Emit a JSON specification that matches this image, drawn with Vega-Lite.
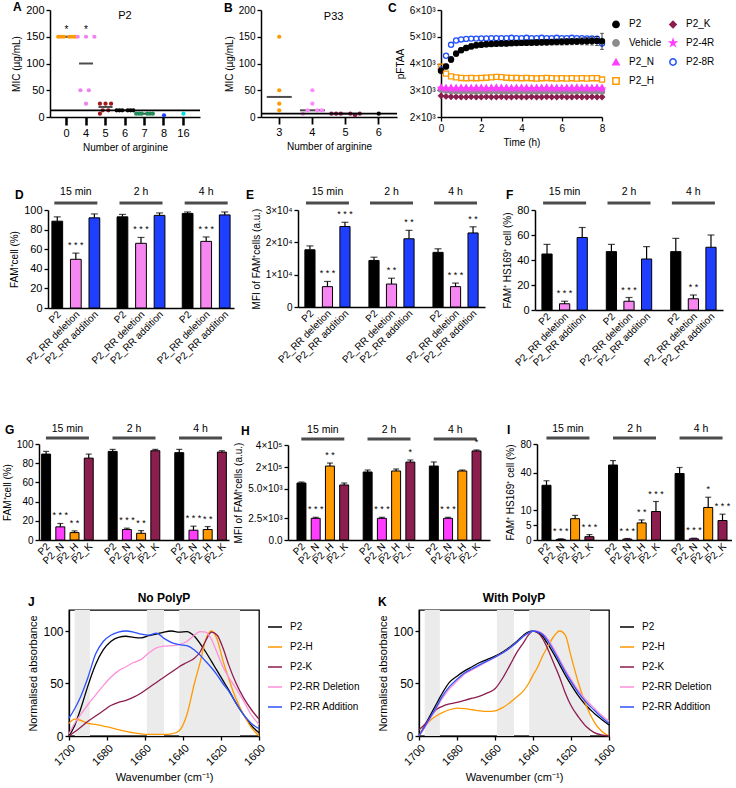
{
"$schema": "https://vega.github.io/schema/vega-lite/v6.json",
"padding": {"left": 2, "top": 1, "right": 0, "bottom": 0},
"autosize": {"type": "pad"},
"background": "white",
"bounds": "flush",
"spacing": 0,
"resolve": {"scale": {"color": "independent", "fill": "independent", "stroke": "independent", "shape": "independent", "xOffset": "independent"}, "legend": {"color": "independent", "fill": "independent", "stroke": "independent", "shape": "independent"}},
"config": {
  "font": "Liberation Sans",
  "view": {"stroke": null},
  "concat": {"spacing": 0},
  "axis": {"domainColor": "#000", "domainWidth": 1.3, "tickColor": "#000", "tickWidth": 1.3, "tickSize": 4, "labelColor": "#000", "titleColor": "#000", "labelFontSize": 10, "titleFontSize": 10, "titleFontWeight": "normal", "grid": false, "labelPadding": 2, "titlePadding": 4, "labelOverlap": false},
  "title": {"fontSize": 12, "fontWeight": "bold", "anchor": "start", "frame": "group", "baseline": "bottom", "color": "#000"},
  "legend": {"labelColor": "#000", "padding": 0},
  "text": {"color": "#000"}
},
"vconcat": [
 {
  "bounds": "flush", "spacing": 0,
  "resolve": {"scale": {"color": "independent", "fill": "independent", "stroke": "independent", "shape": "independent", "xOffset": "independent"}, "legend": {"color": "independent", "fill": "independent", "stroke": "independent", "shape": "independent"}},
  "hconcat": [
   {"width": 11, "height": 1, "data": {"values": []}, "mark": "point"},
   {
    "width": 150, "height": 107,
    "title": {"text": "A", "dx": -37, "offset": -10},
    "layer": [
     {"data": {"values": [{"n":"0","m":150},{"n":"4","m":100},{"n":"5","m":18.75},{"n":"6","m":12.5},{"n":"7","m":6.25}]},
      "mark": {"type": "tick", "size": 14, "thickness": 2, "color": "#000"},
      "encoding": {
        "x": {"field": "n", "type": "nominal", "scale": {"domain": ["0","4","5","6","7","8","16"], "paddingInner": 0, "paddingOuter": 0.35}, "axis": {"labelAngle": 0, "tickWidth": 2.5, "tickSize": 8, "labelFontSize": 11, "domainWidth": 1.5}, "title": "Number of arginine"},
        "y": {"field": "m", "type": "quantitative", "scale": {"domain": [0, 200], "nice": false}, "axis": {"values": [0,50,100,150,200], "labelFontSize": 11, "domainWidth": 1.5, "labelOverlap": false}, "title": "MIC (µg/mL)"}
      }},
     {"data": {"values": [
        {"n":"0","r":"1","v":150},{"n":"0","r":"2","v":150},{"n":"0","r":"3","v":150},{"n":"0","r":"5","v":150},{"n":"0","r":"6","v":150},{"n":"0","r":"7","v":150},
        {"n":"4","r":"1","v":150},{"n":"4","r":"4","v":150},{"n":"4","r":"7","v":150},{"n":"4","r":"2","v":50},{"n":"4","r":"5","v":50},{"n":"4","r":"4","v":25},
        {"n":"5","r":"2","v":25},{"n":"5","r":"4","v":25},{"n":"5","r":"6","v":25},{"n":"5","r":"3","v":12.5},{"n":"5","r":"5","v":12.5},{"n":"5","r":"2","v":6.25},
        {"n":"6","r":"1","v":12.5},{"n":"6","r":"2","v":12.5},{"n":"6","r":"3","v":12.5},{"n":"6","r":"5","v":12.5},{"n":"6","r":"6","v":12.5},{"n":"6","r":"7","v":12.5},
        {"n":"7","r":"1","v":6.25},{"n":"7","r":"2","v":6.25},{"n":"7","r":"3","v":6.25},{"n":"7","r":"5","v":6.25},{"n":"7","r":"6","v":6.25},{"n":"7","r":"7","v":6.25},
        {"n":"8","r":"4","v":3.1},{"n":"16","r":"4","v":6.25}]},
      "mark": {"type": "circle", "size": 18, "opacity": 1},
      "encoding": {
        "x": {"field": "n", "type": "nominal", "scale": {"domain": ["0","4","5","6","7","8","16"], "paddingInner": 0, "paddingOuter": 0.35}, "axis": {"labelAngle": 0, "tickWidth": 2.5, "tickSize": 8, "labelFontSize": 11, "domainWidth": 1.5}, "title": "Number of arginine"},
        "xOffset": {"field": "r", "type": "nominal", "scale": {"domain": ["1","2","3","4","5","6","7"], "paddingInner": 0, "paddingOuter": 0.5}},
        "y": {"field": "v", "type": "quantitative", "axis": {"values": [0,50,100,150,200], "labelFontSize": 11, "domainWidth": 1.5, "labelOverlap": false}, "title": "MIC (µg/mL)"},
        "color": {"field": "n", "type": "nominal", "scale": {"domain": ["0","4","5","6","7","8","16"], "range": ["#ff9900","#ee82ee","#a3161a","#000000","#1f8a5a","#1f3fff","#00dede"]}, "legend": null}
      }},
     {"data": {"values": [{"mic": 12.5}]},
      "mark": {"type": "rule", "strokeWidth": 1.8, "color": "#000"},
      "encoding": {"y": {"field": "mic", "type": "quantitative", "axis": {"values": [0,50,100,150,200], "labelFontSize": 11, "domainWidth": 1.5, "labelOverlap": false}, "title": "MIC (µg/mL)"}}},
     {"data": {"values": [{"n":"0","sig":"*"},{"n":"4","sig":"*"}]},
      "mark": {"type": "text", "fontSize": 10, "baseline": "middle"},
      "encoding": {"x": {"field": "n", "type": "nominal", "scale": {"domain": ["0","4","5","6","7","8","16"], "paddingInner": 0, "paddingOuter": 0.35}, "axis": {"labelAngle": 0, "tickWidth": 2.5, "tickSize": 8, "labelFontSize": 11, "domainWidth": 1.5}, "title": "Number of arginine"}, "y": {"datum": 163, "axis": {"values": [0,50,100,150,200], "labelFontSize": 11, "domainWidth": 1.5, "labelOverlap": false}, "title": "MIC (µg/mL)"}, "text": {"field": "sig"}}},
     {"data": {"values": [{"n":"6","lab":"P2"}]},
      "mark": {"type": "text", "fontSize": 11, "baseline": "middle"},
      "encoding": {"x": {"field": "n", "type": "nominal", "scale": {"domain": ["0","4","5","6","7","8","16"], "paddingInner": 0, "paddingOuter": 0.35}, "axis": {"labelAngle": 0, "tickWidth": 2.5, "tickSize": 8, "labelFontSize": 11, "domainWidth": 1.5}, "title": "Number of arginine"}, "y": {"datum": 188, "axis": {"values": [0,50,100,150,200], "labelFontSize": 11, "domainWidth": 1.5, "labelOverlap": false}, "title": "MIC (µg/mL)"}, "text": {"field": "lab"}}}
    ]
   },
   {"width": 61, "height": 1, "data": {"values": []}, "mark": "point"},
   {
    "width": 136, "height": 107,
    "title": {"text": "B", "dx": -37, "offset": -10},
    "layer": [
     {"data": {"values": [{"n":"3","m":37.5},{"n":"4","m":12.5},{"n":"5","m":6.25}]},
      "mark": {"type": "tick", "size": 25, "thickness": 2, "color": "#000"},
      "encoding": {
        "x": {"field": "n", "type": "nominal", "scale": {"domain": ["3","4","5","6"], "paddingInner": 0, "paddingOuter": 0.05}, "axis": {"labelAngle": 0, "tickWidth": 1.8, "tickSize": 7, "labelFontSize": 11, "domainWidth": 1.5}, "title": "Number of arginine"},
        "y": {"field": "m", "type": "quantitative", "scale": {"domain": [0, 200], "nice": false}, "axis": {"values": [0,50,100,150,200], "domainWidth": 1.5, "labelOverlap": false}, "title": "MIC (µg/mL)"}
      }},
     {"data": {"values": [
        {"n":"3","r":"4","v":150},{"n":"3","r":"4","v":50},{"n":"3","r":"4","v":25},{"n":"3","r":"4","v":12.5},
        {"n":"4","r":"4","v":50},{"n":"4","r":"4","v":25},{"n":"4","r":"3","v":12.5},{"n":"4","r":"5","v":12.5},{"n":"4","r":"6","v":12.5},{"n":"4","r":"2","v":6.25},
        {"n":"5","r":"1","v":6.25},{"n":"5","r":"2","v":6.25},{"n":"5","r":"3","v":6.25},{"n":"5","r":"5","v":6.25},{"n":"5","r":"7","v":6.25},{"n":"5","r":"6","v":3.1},
        {"n":"6","r":"4","v":6.25}]},
      "mark": {"type": "circle", "size": 18, "opacity": 1},
      "encoding": {
        "x": {"field": "n", "type": "nominal", "scale": {"domain": ["3","4","5","6"], "paddingInner": 0, "paddingOuter": 0.05}, "axis": {"labelAngle": 0, "tickWidth": 1.8, "tickSize": 7, "labelFontSize": 11, "domainWidth": 1.5}, "title": "Number of arginine"},
        "xOffset": {"field": "r", "type": "nominal", "scale": {"domain": ["1","2","3","4","5","6","7"], "paddingInner": 0, "paddingOuter": 0.5}},
        "y": {"field": "v", "type": "quantitative", "axis": {"values": [0,50,100,150,200], "domainWidth": 1.5, "labelOverlap": false}, "title": "MIC (µg/mL)"},
        "color": {"field": "n", "type": "nominal", "scale": {"domain": ["3","4","5","6"], "range": ["#ff9900","#ff88ff","#8c1d4f","#000000"]}, "legend": null}
      }},
     {"data": {"values": [{"mic": 6.25}]},
      "mark": {"type": "rule", "strokeWidth": 1.8, "color": "#000"},
      "encoding": {"y": {"field": "mic", "type": "quantitative", "axis": {"values": [0,50,100,150,200], "domainWidth": 1.5, "labelOverlap": false}, "title": "MIC (µg/mL)"}}},
     {"data": {"values": [{"n":"5","lab":"P33"}]},
      "mark": {"type": "text", "fontSize": 11, "baseline": "middle", "dx": -12},
      "encoding": {"x": {"field": "n", "type": "nominal", "scale": {"domain": ["3","4","5","6"], "paddingInner": 0, "paddingOuter": 0.05}, "axis": {"labelAngle": 0, "tickWidth": 1.8, "tickSize": 7, "labelFontSize": 11, "domainWidth": 1.5}, "title": "Number of arginine"}, "y": {"datum": 186, "axis": {"values": [0,50,100,150,200], "domainWidth": 1.5, "labelOverlap": false}, "title": "MIC (µg/mL)"}, "text": {"field": "lab"}}}
    ]
   },
   {"width": 44, "height": 1, "data": {"values": []}, "mark": "point"},
   {
    "width": 161, "height": 107,
    "title": {"text": "C", "dx": -53, "offset": -10},
    "data": {"values": [
      {"t":0,"P2":3730,"Vehicle":3030,"P2_N":3130,"P2_H":3880,"P2_K":2790,"P2-4R":3080,"P2-8R":3780,"e":60},
      {"t":0.25,"P2":3890,"Vehicle":2990,"P2_N":3110,"P2_H":3620,"P2_K":2770,"P2-4R":3060,"P2-8R":4290,"e":90},
      {"t":0.5,"P2":4150,"Vehicle":2970,"P2_N":3120,"P2_H":3520,"P2_K":2760,"P2-4R":3050,"P2-8R":4700,"e":110},
      {"t":0.75,"P2":4370,"Vehicle":2960,"P2_N":3110,"P2_H":3480,"P2_K":2760,"P2-4R":3060,"P2-8R":4860,"e":100},
      {"t":1,"P2":4500,"Vehicle":2960,"P2_N":3120,"P2_H":3460,"P2_K":2750,"P2-4R":3050,"P2-8R":4900,"e":100},
      {"t":1.25,"P2":4580,"Vehicle":2970,"P2_N":3120,"P2_H":3450,"P2_K":2750,"P2-4R":3060,"P2-8R":4920,"e":100},
      {"t":1.5,"P2":4640,"Vehicle":2960,"P2_N":3110,"P2_H":3460,"P2_K":2760,"P2-4R":3050,"P2-8R":4930,"e":100},
      {"t":1.75,"P2":4680,"Vehicle":2950,"P2_N":3120,"P2_H":3450,"P2_K":2750,"P2-4R":3060,"P2-8R":4930,"e":100},
      {"t":2,"P2":4700,"Vehicle":2960,"P2_N":3120,"P2_H":3460,"P2_K":2750,"P2-4R":3060,"P2-8R":4940,"e":100},
      {"t":2.25,"P2":4720,"Vehicle":2960,"P2_N":3110,"P2_H":3470,"P2_K":2760,"P2-4R":3050,"P2-8R":4940,"e":100},
      {"t":2.5,"P2":4730,"Vehicle":2970,"P2_N":3120,"P2_H":3480,"P2_K":2750,"P2-4R":3060,"P2-8R":4950,"e":100},
      {"t":2.75,"P2":4740,"Vehicle":2960,"P2_N":3130,"P2_H":3500,"P2_K":2750,"P2-4R":3060,"P2-8R":4950,"e":100},
      {"t":3,"P2":4745,"Vehicle":2960,"P2_N":3120,"P2_H":3490,"P2_K":2760,"P2-4R":3050,"P2-8R":4950,"e":100},
      {"t":3.25,"P2":4750,"Vehicle":2950,"P2_N":3120,"P2_H":3470,"P2_K":2750,"P2-4R":3060,"P2-8R":4950,"e":100},
      {"t":3.5,"P2":4760,"Vehicle":2960,"P2_N":3110,"P2_H":3460,"P2_K":2750,"P2-4R":3050,"P2-8R":4960,"e":100},
      {"t":3.75,"P2":4765,"Vehicle":2960,"P2_N":3120,"P2_H":3460,"P2_K":2760,"P2-4R":3060,"P2-8R":4950,"e":100},
      {"t":4,"P2":4770,"Vehicle":2970,"P2_N":3120,"P2_H":3450,"P2_K":2750,"P2-4R":3060,"P2-8R":4950,"e":100},
      {"t":4.25,"P2":4775,"Vehicle":2960,"P2_N":3120,"P2_H":3460,"P2_K":2750,"P2-4R":3050,"P2-8R":4960,"e":100},
      {"t":4.5,"P2":4780,"Vehicle":2960,"P2_N":3110,"P2_H":3450,"P2_K":2760,"P2-4R":3060,"P2-8R":4950,"e":100},
      {"t":4.75,"P2":4785,"Vehicle":2950,"P2_N":3120,"P2_H":3440,"P2_K":2750,"P2-4R":3060,"P2-8R":4950,"e":110},
      {"t":5,"P2":4790,"Vehicle":2960,"P2_N":3120,"P2_H":3450,"P2_K":2750,"P2-4R":3050,"P2-8R":4960,"e":110},
      {"t":5.25,"P2":4795,"Vehicle":2960,"P2_N":3130,"P2_H":3460,"P2_K":2760,"P2-4R":3060,"P2-8R":4950,"e":110},
      {"t":5.5,"P2":4800,"Vehicle":2970,"P2_N":3120,"P2_H":3450,"P2_K":2750,"P2-4R":3060,"P2-8R":4950,"e":110},
      {"t":5.75,"P2":4805,"Vehicle":2960,"P2_N":3120,"P2_H":3440,"P2_K":2750,"P2-4R":3050,"P2-8R":4960,"e":110},
      {"t":6,"P2":4810,"Vehicle":2960,"P2_N":3110,"P2_H":3450,"P2_K":2760,"P2-4R":3060,"P2-8R":4950,"e":120},
      {"t":6.25,"P2":4815,"Vehicle":2950,"P2_N":3120,"P2_H":3440,"P2_K":2750,"P2-4R":3060,"P2-8R":4950,"e":120},
      {"t":6.5,"P2":4820,"Vehicle":2960,"P2_N":3120,"P2_H":3450,"P2_K":2750,"P2-4R":3050,"P2-8R":4960,"e":120},
      {"t":6.75,"P2":4825,"Vehicle":2960,"P2_N":3130,"P2_H":3440,"P2_K":2760,"P2-4R":3060,"P2-8R":4950,"e":120},
      {"t":7,"P2":4830,"Vehicle":2970,"P2_N":3120,"P2_H":3450,"P2_K":2750,"P2-4R":3060,"P2-8R":4950,"e":130},
      {"t":7.25,"P2":4835,"Vehicle":2960,"P2_N":3120,"P2_H":3440,"P2_K":2750,"P2-4R":3050,"P2-8R":4940,"e":140},
      {"t":7.5,"P2":4840,"Vehicle":2960,"P2_N":3110,"P2_H":3450,"P2_K":2760,"P2-4R":3060,"P2-8R":4940,"e":150},
      {"t":7.75,"P2":4845,"Vehicle":2960,"P2_N":3120,"P2_H":3450,"P2_K":2750,"P2-4R":3060,"P2-8R":4930,"e":170},
      {"t":8,"P2":4830,"Vehicle":2950,"P2_N":3120,"P2_H":3400,"P2_K":2750,"P2-4R":3050,"P2-8R":4750,"e":300}
    ]},
    "transform": [{"fold": ["P2-8R","P2_H","P2_K","Vehicle","P2_N","P2-4R","P2"], "as": ["s", "v"]}],
    "layer": [
     {"mark": {"type": "point", "size": 26, "strokeWidth": 1.3, "opacity": 1},
      "encoding": {
        "x": {"field": "t", "type": "quantitative", "scale": {"domain": [0, 8], "nice": false}, "axis": {"values": [0,2,4,6,8], "domainWidth": 1.5, "labelFlush": false, "labelOverlap": false}, "title": "Time (h)"},
        "y": {"field": "v", "type": "quantitative", "scale": {"domain": [2000, 6000], "nice": false, "zero": false}, "axis": {"values": [2000,3000,4000,5000,6000], "labelExpr": "(datum.value / 1000) + '×10³'", "domainWidth": 1.5, "labelOverlap": false}, "title": "pFTAA"},
        "shape": {"field": "s", "type": "nominal", "scale": {"domain": ["P2","Vehicle","P2_N","P2_H","P2_K","P2-4R","P2-8R"], "range": ["circle","circle","triangle-up","square","diamond","M0,-1L0.22,-0.31L0.95,-0.31L0.36,0.12L0.59,0.81L0,0.38L-0.59,0.81L-0.36,0.12L-0.95,-0.31L-0.22,-0.31Z","circle"]}, "legend": {"orient": "none", "legendX": 170, "legendY": 9, "columns": 2, "title": null, "labelFontSize": 10, "symbolSize": 40, "columnPadding": 4, "rowPadding": 5, "labelOffset": 8, "symbolStrokeWidth": 1.5}},
        "stroke": {"field": "s", "type": "nominal", "scale": {"domain": ["P2","Vehicle","P2_N","P2_H","P2_K","P2-4R","P2-8R"], "range": ["#000000","#8c8c8c","#ff3dff","#ff9900","#8c1d4f","#ff3dff","#1f4fff"]}, "legend": {"orient": "none", "legendX": 170, "legendY": 9, "columns": 2, "title": null, "labelFontSize": 10, "symbolSize": 40, "columnPadding": 4, "rowPadding": 5, "labelOffset": 8, "symbolStrokeWidth": 1.5}},
        "fill": {"field": "s", "type": "nominal", "scale": {"domain": ["P2","Vehicle","P2_N","P2_H","P2_K","P2-4R","P2-8R"], "range": ["#000000","#8c8c8c","#ff3dff","transparent","#8c1d4f","#ff3dff","transparent"]}, "legend": {"orient": "none", "legendX": 170, "legendY": 9, "columns": 2, "title": null, "labelFontSize": 10, "symbolSize": 40, "columnPadding": 4, "rowPadding": 5, "labelOffset": 8, "symbolStrokeWidth": 1.5}}
      }},
     {"transform": [{"filter": "datum.s == 'P2'"}],
      "mark": {"type": "errorbar", "ticks": {"size": 4}, "color": "#000", "thickness": 0.8},
      "encoding": {
        "x": {"field": "t", "type": "quantitative", "axis": {"values": [0,2,4,6,8], "domainWidth": 1.5, "labelFlush": false, "labelOverlap": false}, "title": "Time (h)"},
        "y": {"field": "v", "type": "quantitative", "axis": {"values": [2000,3000,4000,5000,6000], "labelExpr": "(datum.value / 1000) + '×10³'", "domainWidth": 1.5, "labelOverlap": false}, "title": "pFTAA"},
        "yError": {"field": "e"}
      }}
    ]
   }
  ]
 },
 {"width": 1, "height": 200, "data": {"values": []}, "mark": "point"},
 {
  "bounds": "flush", "spacing": 0,
  "resolve": {"scale": {"color": "independent", "fill": "independent", "stroke": "independent", "shape": "independent", "xOffset": "independent"}, "legend": {"color": "independent", "fill": "independent", "stroke": "independent", "shape": "independent"}},
  "hconcat": [
   {"width": 9, "height": 1, "data": {"values": []}, "mark": "point"},
   {
    "width": 186, "height": 98,
    "title": {"text": "D", "dx": -33, "offset": -15},
    "data": {"values": [
      {"t":"15 min","s":"P2","v":88.6,"hi":93,"sig":""},
      {"t":"15 min","s":"P2_RR deletion","v":49.7,"hi":56,"sig":"* * *"},
      {"t":"15 min","s":"P2_RR addition","v":92,"hi":96,"sig":""},
      {"t":"2 h","s":"P2","v":93,"hi":95.5,"sig":""},
      {"t":"2 h","s":"P2_RR deletion","v":66,"hi":72,"sig":"* * *"},
      {"t":"2 h","s":"P2_RR addition","v":94.5,"hi":97,"sig":""},
      {"t":"4 h","s":"P2","v":96.5,"hi":98,"sig":""},
      {"t":"4 h","s":"P2_RR deletion","v":68,"hi":72.5,"sig":"* * *"},
      {"t":"4 h","s":"P2_RR addition","v":95,"hi":98,"sig":""}
    ]},
    "layer": [
     {"mark": {"type": "bar", "stroke": "#000", "strokeWidth": 1},
      "encoding": {
        "x": {"field": "t", "type": "nominal", "scale": {"domain": ["15 min","2 h","4 h"], "paddingInner": 0.146, "paddingOuter": 0}, "axis": {"labels": false, "ticks": false, "domainWidth": 1.5}, "title": null},
        "xOffset": {"field": "s", "type": "nominal", "scale": {"domain": ["P2","P2_RR deletion","P2_RR addition"], "paddingInner": 0.42, "paddingOuter": 0.21}},
        "y": {"field": "v", "type": "quantitative", "scale": {"domain": [0, 100], "nice": false}, "axis": {"values": [0,20,40,60,80,100], "labelFontSize": 11, "domainWidth": 1.5, "labelOverlap": false}, "title": "FAM⁺cell (%)"},
        "color": {"field": "s", "type": "nominal", "scale": {"domain": ["P2","P2_RR deletion","P2_RR addition"], "range": ["#000000","#f687f0","#1f3fff"]}, "legend": null}}},
     {"mark": {"type": "rule", "color": "#000", "strokeWidth": 1.2},
      "encoding": {"x": {"field": "t", "type": "nominal", "axis": {"labels": false, "ticks": false, "domainWidth": 1.5}, "title": null}, "xOffset": {"field": "s", "type": "nominal"}, "y": {"field": "v", "type": "quantitative", "axis": {"values": [0,20,40,60,80,100], "labelFontSize": 11, "domainWidth": 1.5, "labelOverlap": false}, "title": "FAM⁺cell (%)"}, "y2": {"field": "hi"}}},
     {"mark": {"type": "tick", "color": "#000", "size": 7, "thickness": 1.2},
      "encoding": {"x": {"field": "t", "type": "nominal", "axis": {"labels": false, "ticks": false, "domainWidth": 1.5}, "title": null}, "xOffset": {"field": "s", "type": "nominal"}, "y": {"field": "hi", "type": "quantitative", "axis": {"values": [0,20,40,60,80,100], "labelFontSize": 11, "domainWidth": 1.5, "labelOverlap": false}, "title": "FAM⁺cell (%)"}}},
     {"mark": {"type": "text", "fontSize": 9, "baseline": "bottom", "dy": -3},
      "encoding": {"x": {"field": "t", "type": "nominal", "axis": {"labels": false, "ticks": false, "domainWidth": 1.5}, "title": null}, "xOffset": {"field": "s", "type": "nominal"}, "y": {"field": "hi", "type": "quantitative", "axis": {"values": [0,20,40,60,80,100], "labelFontSize": 11, "domainWidth": 1.5, "labelOverlap": false}, "title": "FAM⁺cell (%)"}, "text": {"field": "sig"}}},
     {"mark": {"type": "text", "fontSize": 10, "angle": 315, "align": "right", "baseline": "middle", "dx": -2, "dy": 5},
      "encoding": {"x": {"field": "t", "type": "nominal", "axis": {"labels": false, "ticks": false, "domainWidth": 1.5}, "title": null}, "xOffset": {"field": "s", "type": "nominal"}, "y": {"datum": 0, "axis": {"values": [0,20,40,60,80,100], "labelFontSize": 11, "domainWidth": 1.5, "labelOverlap": false}, "title": "FAM⁺cell (%)"}, "text": {"field": "s"}}},
     {"transform": [{"filter": "datum.s == 'P2'"}],
      "mark": {"type": "tick", "color": "#000", "size": 43, "thickness": 3, "clip": false},
      "encoding": {"x": {"field": "t", "type": "nominal", "axis": {"labels": false, "ticks": false, "domainWidth": 1.5}, "title": null}, "y": {"datum": 107.2, "axis": {"values": [0,20,40,60,80,100], "labelFontSize": 11, "domainWidth": 1.5, "labelOverlap": false}, "title": "FAM⁺cell (%)"}}},
     {"transform": [{"filter": "datum.s == 'P2'"}],
      "mark": {"type": "text", "fontSize": 10.5, "baseline": "middle", "clip": false},
      "encoding": {"x": {"field": "t", "type": "nominal", "axis": {"labels": false, "ticks": false, "domainWidth": 1.5}, "title": null}, "y": {"datum": 118.4, "axis": {"values": [0,20,40,60,80,100], "labelFontSize": 11, "domainWidth": 1.5, "labelOverlap": false}, "title": "FAM⁺cell (%)"}, "text": {"field": "t"}}}
    ]
   },
   {"width": 64, "height": 1, "data": {"values": []}, "mark": "point"},
   {
    "width": 187, "height": 97,
    "title": {"text": "E", "dx": -52, "offset": -15},
    "data": {"values": [
      {"t":"15 min","s":"P2","v":17700,"hi":18900,"sig":""},
      {"t":"15 min","s":"P2_RR deletion","v":6300,"hi":7900,"sig":"* * *"},
      {"t":"15 min","s":"P2_RR addition","v":24900,"hi":26200,"sig":"* * *"},
      {"t":"2 h","s":"P2","v":14400,"hi":15400,"sig":""},
      {"t":"2 h","s":"P2_RR deletion","v":7100,"hi":8900,"sig":"* *"},
      {"t":"2 h","s":"P2_RR addition","v":21100,"hi":23700,"sig":"* *"},
      {"t":"4 h","s":"P2","v":16900,"hi":18000,"sig":""},
      {"t":"4 h","s":"P2_RR deletion","v":6300,"hi":7400,"sig":"* * *"},
      {"t":"4 h","s":"P2_RR addition","v":22900,"hi":24800,"sig":"* *"}
    ]},
    "layer": [
     {"mark": {"type": "bar", "stroke": "#000", "strokeWidth": 1},
      "encoding": {
        "x": {"field": "t", "type": "nominal", "scale": {"domain": ["15 min","2 h","4 h"], "paddingInner": 0.18, "paddingOuter": 0.05}, "axis": {"labels": false, "ticks": false, "domainWidth": 1.5}, "title": null},
        "xOffset": {"field": "s", "type": "nominal", "scale": {"domain": ["P2","P2_RR deletion","P2_RR addition"], "paddingInner": 0.42, "paddingOuter": 0.21}},
        "y": {"field": "v", "type": "quantitative", "scale": {"domain": [0, 30000], "nice": false}, "axis": {"values": [0,10000,20000,30000], "labelExpr": "datum.value == 0 ? '0' : (datum.value / 10000) + '×10⁴'", "domainWidth": 1.5, "labelOverlap": false}, "title": "MFI of FAM⁺cells (a.u.)"},
        "color": {"field": "s", "type": "nominal", "scale": {"domain": ["P2","P2_RR deletion","P2_RR addition"], "range": ["#000000","#f687f0","#1f3fff"]}, "legend": null}}},
     {"mark": {"type": "rule", "color": "#000", "strokeWidth": 1.2},
      "encoding": {"x": {"field": "t", "type": "nominal", "axis": {"labels": false, "ticks": false, "domainWidth": 1.5}, "title": null}, "xOffset": {"field": "s", "type": "nominal"}, "y": {"field": "v", "type": "quantitative", "axis": {"values": [0,10000,20000,30000], "labelExpr": "datum.value == 0 ? '0' : (datum.value / 10000) + '×10⁴'", "domainWidth": 1.5, "labelOverlap": false}, "title": "MFI of FAM⁺cells (a.u.)"}, "y2": {"field": "hi"}}},
     {"mark": {"type": "tick", "color": "#000", "size": 7, "thickness": 1.2},
      "encoding": {"x": {"field": "t", "type": "nominal", "axis": {"labels": false, "ticks": false, "domainWidth": 1.5}, "title": null}, "xOffset": {"field": "s", "type": "nominal"}, "y": {"field": "hi", "type": "quantitative", "axis": {"values": [0,10000,20000,30000], "labelExpr": "datum.value == 0 ? '0' : (datum.value / 10000) + '×10⁴'", "domainWidth": 1.5, "labelOverlap": false}, "title": "MFI of FAM⁺cells (a.u.)"}}},
     {"mark": {"type": "text", "fontSize": 9, "baseline": "bottom", "dy": -3},
      "encoding": {"x": {"field": "t", "type": "nominal", "axis": {"labels": false, "ticks": false, "domainWidth": 1.5}, "title": null}, "xOffset": {"field": "s", "type": "nominal"}, "y": {"field": "hi", "type": "quantitative", "axis": {"values": [0,10000,20000,30000], "labelExpr": "datum.value == 0 ? '0' : (datum.value / 10000) + '×10⁴'", "domainWidth": 1.5, "labelOverlap": false}, "title": "MFI of FAM⁺cells (a.u.)"}, "text": {"field": "sig"}}},
     {"mark": {"type": "text", "fontSize": 10, "angle": 315, "align": "right", "baseline": "middle", "dx": -2, "dy": 5},
      "encoding": {"x": {"field": "t", "type": "nominal", "axis": {"labels": false, "ticks": false, "domainWidth": 1.5}, "title": null}, "xOffset": {"field": "s", "type": "nominal"}, "y": {"datum": 0, "axis": {"values": [0,10000,20000,30000], "labelExpr": "datum.value == 0 ? '0' : (datum.value / 10000) + '×10⁴'", "domainWidth": 1.5, "labelOverlap": false}, "title": "MFI of FAM⁺cells (a.u.)"}, "text": {"field": "s"}}},
     {"transform": [{"filter": "datum.s == 'P2'"}],
      "mark": {"type": "tick", "color": "#000", "size": 43, "thickness": 3, "clip": false},
      "encoding": {"x": {"field": "t", "type": "nominal", "axis": {"labels": false, "ticks": false, "domainWidth": 1.5}, "title": null}, "y": {"datum": 32166, "axis": {"values": [0,10000,20000,30000], "labelExpr": "datum.value == 0 ? '0' : (datum.value / 10000) + '×10⁴'", "domainWidth": 1.5, "labelOverlap": false}, "title": "MFI of FAM⁺cells (a.u.)"}}},
     {"transform": [{"filter": "datum.s == 'P2'"}],
      "mark": {"type": "text", "fontSize": 10.5, "baseline": "middle", "clip": false},
      "encoding": {"x": {"field": "t", "type": "nominal", "axis": {"labels": false, "ticks": false, "domainWidth": 1.5}, "title": null}, "y": {"datum": 35570, "axis": {"values": [0,10000,20000,30000], "labelExpr": "datum.value == 0 ? '0' : (datum.value / 10000) + '×10⁴'", "domainWidth": 1.5, "labelOverlap": false}, "title": "MFI of FAM⁺cells (a.u.)"}, "text": {"field": "t"}}}
    ]
   },
   {"width": 50, "height": 1, "data": {"values": []}, "mark": "point"},
   {
    "width": 188, "height": 100,
    "title": {"text": "F", "dx": -29, "offset": -15},
    "data": {"values": [
      {"t":"15 min","s":"P2","v":44.8,"hi":52.5,"sig":""},
      {"t":"15 min","s":"P2_RR deletion","v":5,"hi":7,"sig":"* * *"},
      {"t":"15 min","s":"P2_RR addition","v":58,"hi":66,"sig":""},
      {"t":"2 h","s":"P2","v":46.7,"hi":52.5,"sig":""},
      {"t":"2 h","s":"P2_RR deletion","v":7,"hi":10,"sig":"* * *"},
      {"t":"2 h","s":"P2_RR addition","v":40.8,"hi":50.7,"sig":""},
      {"t":"4 h","s":"P2","v":46.7,"hi":57.3,"sig":""},
      {"t":"4 h","s":"P2_RR deletion","v":9,"hi":12,"sig":"* *"},
      {"t":"4 h","s":"P2_RR addition","v":50.2,"hi":60,"sig":""}
    ]},
    "layer": [
     {"mark": {"type": "bar", "stroke": "#000", "strokeWidth": 1},
      "encoding": {
        "x": {"field": "t", "type": "nominal", "scale": {"domain": ["15 min","2 h","4 h"], "paddingInner": 0.18, "paddingOuter": 0.05}, "axis": {"labels": false, "ticks": false, "domainWidth": 1.5}, "title": null},
        "xOffset": {"field": "s", "type": "nominal", "scale": {"domain": ["P2","P2_RR deletion","P2_RR addition"], "paddingInner": 0.42, "paddingOuter": 0.21}},
        "y": {"field": "v", "type": "quantitative", "scale": {"domain": [0, 80], "nice": false}, "axis": {"values": [0,20,40,60,80], "labelFontSize": 11, "domainWidth": 1.5, "labelOverlap": false}, "title": "FAM⁺ HS169⁺ cell (%)"},
        "color": {"field": "s", "type": "nominal", "scale": {"domain": ["P2","P2_RR deletion","P2_RR addition"], "range": ["#000000","#f687f0","#1f3fff"]}, "legend": null}}},
     {"mark": {"type": "rule", "color": "#000", "strokeWidth": 1.2},
      "encoding": {"x": {"field": "t", "type": "nominal", "axis": {"labels": false, "ticks": false, "domainWidth": 1.5}, "title": null}, "xOffset": {"field": "s", "type": "nominal"}, "y": {"field": "v", "type": "quantitative", "axis": {"values": [0,20,40,60,80], "labelFontSize": 11, "domainWidth": 1.5, "labelOverlap": false}, "title": "FAM⁺ HS169⁺ cell (%)"}, "y2": {"field": "hi"}}},
     {"mark": {"type": "tick", "color": "#000", "size": 7, "thickness": 1.2},
      "encoding": {"x": {"field": "t", "type": "nominal", "axis": {"labels": false, "ticks": false, "domainWidth": 1.5}, "title": null}, "xOffset": {"field": "s", "type": "nominal"}, "y": {"field": "hi", "type": "quantitative", "axis": {"values": [0,20,40,60,80], "labelFontSize": 11, "domainWidth": 1.5, "labelOverlap": false}, "title": "FAM⁺ HS169⁺ cell (%)"}}},
     {"mark": {"type": "text", "fontSize": 9, "baseline": "bottom", "dy": -3},
      "encoding": {"x": {"field": "t", "type": "nominal", "axis": {"labels": false, "ticks": false, "domainWidth": 1.5}, "title": null}, "xOffset": {"field": "s", "type": "nominal"}, "y": {"field": "hi", "type": "quantitative", "axis": {"values": [0,20,40,60,80], "labelFontSize": 11, "domainWidth": 1.5, "labelOverlap": false}, "title": "FAM⁺ HS169⁺ cell (%)"}, "text": {"field": "sig"}}},
     {"mark": {"type": "text", "fontSize": 10, "angle": 315, "align": "right", "baseline": "middle", "dx": -2, "dy": 5},
      "encoding": {"x": {"field": "t", "type": "nominal", "axis": {"labels": false, "ticks": false, "domainWidth": 1.5}, "title": null}, "xOffset": {"field": "s", "type": "nominal"}, "y": {"datum": 0, "axis": {"values": [0,20,40,60,80], "labelFontSize": 11, "domainWidth": 1.5, "labelOverlap": false}, "title": "FAM⁺ HS169⁺ cell (%)"}, "text": {"field": "s"}}},
     {"transform": [{"filter": "datum.s == 'P2'"}],
      "mark": {"type": "tick", "color": "#000", "size": 43, "thickness": 3, "clip": false},
      "encoding": {"x": {"field": "t", "type": "nominal", "axis": {"labels": false, "ticks": false, "domainWidth": 1.5}, "title": null}, "y": {"datum": 85.6, "axis": {"values": [0,20,40,60,80], "labelFontSize": 11, "domainWidth": 1.5, "labelOverlap": false}, "title": "FAM⁺ HS169⁺ cell (%)"}}},
     {"transform": [{"filter": "datum.s == 'P2'"}],
      "mark": {"type": "text", "fontSize": 10.5, "baseline": "middle", "clip": false},
      "encoding": {"x": {"field": "t", "type": "nominal", "axis": {"labels": false, "ticks": false, "domainWidth": 1.5}, "title": null}, "y": {"datum": 94.4, "axis": {"values": [0,20,40,60,80], "labelFontSize": 11, "domainWidth": 1.5, "labelOverlap": false}, "title": "FAM⁺ HS169⁺ cell (%)"}, "text": {"field": "t"}}}
    ]
   }
  ]
 },
 {"width": 1, "height": 234, "data": {"values": []}, "mark": "point"},
 {
  "bounds": "flush", "spacing": 0,
  "resolve": {"scale": {"color": "independent", "fill": "independent", "stroke": "independent", "shape": "independent", "xOffset": "independent"}, "legend": {"color": "independent", "fill": "independent", "stroke": "independent", "shape": "independent"}},
  "hconcat": [
   {
    "width": 190, "height": 96,
    "title": {"text": "G", "dx": -34, "offset": -13},
    "data": {"values": [
      {"t":"15 min","s":"P2","v":89.5,"hi":92.3,"sig":""},
      {"t":"15 min","s":"P2_N","v":13.7,"hi":17.2,"sig":"* * *"},
      {"t":"15 min","s":"P2_H","v":7.7,"hi":9.5,"sig":"* *"},
      {"t":"15 min","s":"P2_K","v":85.3,"hi":89.5,"sig":""},
      {"t":"2 h","s":"P2","v":92.3,"hi":94.4,"sig":""},
      {"t":"2 h","s":"P2_N","v":10.9,"hi":12.3,"sig":"* * *"},
      {"t":"2 h","s":"P2_H","v":7,"hi":9.8,"sig":"* *"},
      {"t":"2 h","s":"P2_K","v":93,"hi":94.4,"sig":""},
      {"t":"4 h","s":"P2","v":91,"hi":94.4,"sig":""},
      {"t":"4 h","s":"P2_N","v":10.2,"hi":14.4,"sig":"* * *"},
      {"t":"4 h","s":"P2_H","v":10.9,"hi":14,"sig":"* *"},
      {"t":"4 h","s":"P2_K","v":91.6,"hi":93,"sig":""}
    ]},
    "layer": [
     {"mark": {"type": "bar", "stroke": "#000", "strokeWidth": 1},
      "encoding": {
        "x": {"field": "t", "type": "nominal", "scale": {"domain": ["15 min","2 h","4 h"], "paddingInner": 0.146, "paddingOuter": 0}, "axis": {"labels": false, "ticks": false, "domainWidth": 1.5}, "title": null},
        "xOffset": {"field": "s", "type": "nominal", "scale": {"domain": ["P2","P2_N","P2_H","P2_K"], "paddingInner": 0.37, "paddingOuter": 0.185}},
        "y": {"field": "v", "type": "quantitative", "scale": {"domain": [0, 100], "nice": false}, "axis": {"values": [0,20,40,60,80,100], "domainWidth": 1.5, "labelOverlap": false}, "title": "FAM⁺cell (%)"},
        "color": {"field": "s", "type": "nominal", "scale": {"domain": ["P2","P2_N","P2_H","P2_K"], "range": ["#000000","#ff3dff","#ff9900","#8c1d4f"]}, "legend": null}}},
     {"mark": {"type": "rule", "color": "#000", "strokeWidth": 1.2},
      "encoding": {"x": {"field": "t", "type": "nominal", "axis": {"labels": false, "ticks": false, "domainWidth": 1.5}, "title": null}, "xOffset": {"field": "s", "type": "nominal"}, "y": {"field": "v", "type": "quantitative", "axis": {"values": [0,20,40,60,80,100], "domainWidth": 1.5, "labelOverlap": false}, "title": "FAM⁺cell (%)"}, "y2": {"field": "hi"}}},
     {"mark": {"type": "tick", "color": "#000", "size": 6, "thickness": 1.2},
      "encoding": {"x": {"field": "t", "type": "nominal", "axis": {"labels": false, "ticks": false, "domainWidth": 1.5}, "title": null}, "xOffset": {"field": "s", "type": "nominal"}, "y": {"field": "hi", "type": "quantitative", "axis": {"values": [0,20,40,60,80,100], "domainWidth": 1.5, "labelOverlap": false}, "title": "FAM⁺cell (%)"}}},
     {"mark": {"type": "text", "fontSize": 9, "baseline": "bottom", "dy": -3},
      "encoding": {"x": {"field": "t", "type": "nominal", "axis": {"labels": false, "ticks": false, "domainWidth": 1.5}, "title": null}, "xOffset": {"field": "s", "type": "nominal"}, "y": {"field": "hi", "type": "quantitative", "axis": {"values": [0,20,40,60,80,100], "domainWidth": 1.5, "labelOverlap": false}, "title": "FAM⁺cell (%)"}, "text": {"field": "sig"}}},
     {"mark": {"type": "text", "fontSize": 10, "angle": 315, "align": "right", "baseline": "middle", "dx": -2, "dy": 5},
      "encoding": {"x": {"field": "t", "type": "nominal", "axis": {"labels": false, "ticks": false, "domainWidth": 1.5}, "title": null}, "xOffset": {"field": "s", "type": "nominal"}, "y": {"datum": 0, "axis": {"values": [0,20,40,60,80,100], "domainWidth": 1.5, "labelOverlap": false}, "title": "FAM⁺cell (%)"}, "text": {"field": "s"}}},
     {"transform": [{"filter": "datum.s == 'P2'"}],
      "mark": {"type": "tick", "color": "#000", "size": 43, "thickness": 3, "clip": false},
      "encoding": {"x": {"field": "t", "type": "nominal", "axis": {"labels": false, "ticks": false, "domainWidth": 1.5}, "title": null}, "y": {"datum": 106.2, "axis": {"values": [0,20,40,60,80,100], "domainWidth": 1.5, "labelOverlap": false}, "title": "FAM⁺cell (%)"}}},
     {"transform": [{"filter": "datum.s == 'P2'"}],
      "mark": {"type": "text", "fontSize": 10.5, "baseline": "middle", "clip": false},
      "encoding": {"x": {"field": "t", "type": "nominal", "axis": {"labels": false, "ticks": false, "domainWidth": 1.5}, "title": null}, "y": {"datum": 115.6, "axis": {"values": [0,20,40,60,80,100], "domainWidth": 1.5, "labelOverlap": false}, "title": "FAM⁺cell (%)"}, "text": {"field": "t"}}}
    ]
   },
   {"width": 59, "height": 1, "data": {"values": []}, "mark": "point"},
   {
    "width": 202, "height": 96,
    "title": {"text": "H", "dx": -47, "offset": -13},
    "data": {"values": [
      {"t":"15 min","s":"P2","v":55000,"hi":64000,"sig":""},
      {"t":"15 min","s":"P2_N","v":2500,"hi":2620,"sig":"* * *"},
      {"t":"15 min","s":"P2_H","v":209000,"hi":236000,"sig":"* *"},
      {"t":"15 min","s":"P2_K","v":37000,"hi":55000,"sig":""},
      {"t":"2 h","s":"P2","v":155000,"hi":173000,"sig":""},
      {"t":"2 h","s":"P2_N","v":2500,"hi":2620,"sig":"* * *"},
      {"t":"2 h","s":"P2_H","v":164000,"hi":182000,"sig":""},
      {"t":"2 h","s":"P2_K","v":245000,"hi":264000,"sig":"*"},
      {"t":"4 h","s":"P2","v":209000,"hi":246000,"sig":""},
      {"t":"4 h","s":"P2_N","v":2500,"hi":2620,"sig":"* * *"},
      {"t":"4 h","s":"P2_H","v":164000,"hi":173000,"sig":""},
      {"t":"4 h","s":"P2_K","v":346000,"hi":355000,"sig":"*"}
    ]},
    "layer": [
     {"mark": {"type": "bar", "stroke": "#000", "strokeWidth": 1},
      "encoding": {
        "x": {"field": "t", "type": "nominal", "scale": {"domain": ["15 min","2 h","4 h"], "paddingInner": 0.14, "paddingOuter": 0.096}, "axis": {"labels": false, "ticks": false, "domainWidth": 1.5}, "title": null},
        "xOffset": {"field": "s", "type": "nominal", "scale": {"domain": ["P2","P2_N","P2_H","P2_K"], "paddingInner": 0.37, "paddingOuter": 0.185}},
        "y": {"field": "v", "type": "quantitative", "scale": {"domain": [0, 3000, 5000, 400000], "range": [96, 70, 44.5, 1], "nice": false, "zero": false}, "axis": {"values": [0,2500,5000,200000,400000], "labelExpr": "datum.value == 0 ? '0.0' : datum.value == 2500 ? '2.5×10³' : datum.value == 5000 ? '5.0×10³' : datum.value == 200000 ? '2×10⁵' : '4×10⁵'", "domainWidth": 1.5, "labelOverlap": false}, "title": "MFI of FAM⁺cells (a.u.)"},
        "color": {"field": "s", "type": "nominal", "scale": {"domain": ["P2","P2_N","P2_H","P2_K"], "range": ["#000000","#ff3dff","#ff9900","#8c1d4f"]}, "legend": null}}},
     {"mark": {"type": "rule", "color": "#000", "strokeWidth": 1.2},
      "encoding": {"x": {"field": "t", "type": "nominal", "axis": {"labels": false, "ticks": false, "domainWidth": 1.5}, "title": null}, "xOffset": {"field": "s", "type": "nominal"}, "y": {"field": "v", "type": "quantitative", "axis": {"values": [0,2500,5000,200000,400000], "labelExpr": "datum.value == 0 ? '0.0' : datum.value == 2500 ? '2.5×10³' : datum.value == 5000 ? '5.0×10³' : datum.value == 200000 ? '2×10⁵' : '4×10⁵'", "domainWidth": 1.5, "labelOverlap": false}, "title": "MFI of FAM⁺cells (a.u.)"}, "y2": {"field": "hi"}}},
     {"mark": {"type": "tick", "color": "#000", "size": 6, "thickness": 1.2},
      "encoding": {"x": {"field": "t", "type": "nominal", "axis": {"labels": false, "ticks": false, "domainWidth": 1.5}, "title": null}, "xOffset": {"field": "s", "type": "nominal"}, "y": {"field": "hi", "type": "quantitative", "axis": {"values": [0,2500,5000,200000,400000], "labelExpr": "datum.value == 0 ? '0.0' : datum.value == 2500 ? '2.5×10³' : datum.value == 5000 ? '5.0×10³' : datum.value == 200000 ? '2×10⁵' : '4×10⁵'", "domainWidth": 1.5, "labelOverlap": false}, "title": "MFI of FAM⁺cells (a.u.)"}}},
     {"mark": {"type": "text", "fontSize": 9, "baseline": "bottom", "dy": -3},
      "encoding": {"x": {"field": "t", "type": "nominal", "axis": {"labels": false, "ticks": false, "domainWidth": 1.5}, "title": null}, "xOffset": {"field": "s", "type": "nominal"}, "y": {"field": "hi", "type": "quantitative", "axis": {"values": [0,2500,5000,200000,400000], "labelExpr": "datum.value == 0 ? '0.0' : datum.value == 2500 ? '2.5×10³' : datum.value == 5000 ? '5.0×10³' : datum.value == 200000 ? '2×10⁵' : '4×10⁵'", "domainWidth": 1.5, "labelOverlap": false}, "title": "MFI of FAM⁺cells (a.u.)"}, "text": {"field": "sig"}}},
     {"mark": {"type": "text", "fontSize": 10, "angle": 315, "align": "right", "baseline": "middle", "dx": -2, "dy": 5},
      "encoding": {"x": {"field": "t", "type": "nominal", "axis": {"labels": false, "ticks": false, "domainWidth": 1.5}, "title": null}, "xOffset": {"field": "s", "type": "nominal"}, "y": {"datum": 0, "axis": {"values": [0,2500,5000,200000,400000], "labelExpr": "datum.value == 0 ? '0.0' : datum.value == 2500 ? '2.5×10³' : datum.value == 5000 ? '5.0×10³' : datum.value == 200000 ? '2×10⁵' : '4×10⁵'", "domainWidth": 1.5, "labelOverlap": false}, "title": "MFI of FAM⁺cells (a.u.)"}, "text": {"field": "s"}}},
     {"transform": [{"filter": "datum.s == 'P2'"}],
      "mark": {"type": "tick", "color": "#000", "size": 43, "thickness": 3, "clip": false},
      "encoding": {"x": {"field": "t", "type": "nominal", "axis": {"labels": false, "ticks": false, "domainWidth": 1.5}, "title": null}, "y": {"datum": 454500, "axis": {"values": [0,2500,5000,200000,400000], "labelExpr": "datum.value == 0 ? '0.0' : datum.value == 2500 ? '2.5×10³' : datum.value == 5000 ? '5.0×10³' : datum.value == 200000 ? '2×10⁵' : '4×10⁵'", "domainWidth": 1.5, "labelOverlap": false}, "title": "MFI of FAM⁺cells (a.u.)"}}},
     {"transform": [{"filter": "datum.s == 'P2'"}],
      "mark": {"type": "text", "fontSize": 10.5, "baseline": "middle", "clip": false},
      "encoding": {"x": {"field": "t", "type": "nominal", "axis": {"labels": false, "ticks": false, "domainWidth": 1.5}, "title": null}, "y": {"datum": 536000, "axis": {"values": [0,2500,5000,200000,400000], "labelExpr": "datum.value == 0 ? '0.0' : datum.value == 2500 ? '2.5×10³' : datum.value == 5000 ? '5.0×10³' : datum.value == 200000 ? '2×10⁵' : '4×10⁵'", "domainWidth": 1.5, "labelOverlap": false}, "title": "MFI of FAM⁺cells (a.u.)"}, "text": {"field": "t"}}}
    ]
   },
   {"width": 47, "height": 1, "data": {"values": []}, "mark": "point"},
   {
    "width": 195, "height": 96,
    "title": {"text": "I", "dx": -30, "offset": -13},
    "data": {"values": [
      {"t":"15 min","s":"P2","v":22.7,"hi":29,"sig":""},
      {"t":"15 min","s":"P2_N","v":0.2,"hi":0.4,"sig":"* * *"},
      {"t":"15 min","s":"P2_H","v":7.1,"hi":8.2,"sig":""},
      {"t":"15 min","s":"P2_K","v":1.1,"hi":1.8,"sig":"* * *"},
      {"t":"2 h","s":"P2","v":50.8,"hi":57,"sig":""},
      {"t":"2 h","s":"P2_N","v":0.3,"hi":0.5,"sig":"* * *"},
      {"t":"2 h","s":"P2_H","v":5.7,"hi":6.7,"sig":"* *"},
      {"t":"2 h","s":"P2_K","v":9.5,"hi":11,"sig":"* * *"},
      {"t":"4 h","s":"P2","v":39,"hi":47.4,"sig":""},
      {"t":"4 h","s":"P2_N","v":0.4,"hi":0.6,"sig":"* * *"},
      {"t":"4 h","s":"P2_H","v":10.3,"hi":11.5,"sig":"*"},
      {"t":"4 h","s":"P2_K","v":6.5,"hi":8.6,"sig":"* * *"}
    ]},
    "layer": [
     {"mark": {"type": "bar", "stroke": "#000", "strokeWidth": 1},
      "encoding": {
        "x": {"field": "t", "type": "nominal", "scale": {"domain": ["15 min","2 h","4 h"], "paddingInner": 0.14, "paddingOuter": 0.035}, "axis": {"labels": false, "ticks": false, "domainWidth": 1.5}, "title": null},
        "xOffset": {"field": "s", "type": "nominal", "scale": {"domain": ["P2","P2_N","P2_H","P2_K"], "paddingInner": 0.37, "paddingOuter": 0.185}},
        "y": {"field": "v", "type": "quantitative", "scale": {"domain": [0, 10, 12, 80], "range": [96, 66, 49, 0], "nice": false, "zero": false}, "axis": {"values": [0,5,10,40,80], "domainWidth": 1.5, "labelOverlap": false}, "title": "FAM⁺ HS169⁺ cell (%)"},
        "color": {"field": "s", "type": "nominal", "scale": {"domain": ["P2","P2_N","P2_H","P2_K"], "range": ["#000000","#ff3dff","#ff9900","#8c1d4f"]}, "legend": null}}},
     {"mark": {"type": "rule", "color": "#000", "strokeWidth": 1.2},
      "encoding": {"x": {"field": "t", "type": "nominal", "axis": {"labels": false, "ticks": false, "domainWidth": 1.5}, "title": null}, "xOffset": {"field": "s", "type": "nominal"}, "y": {"field": "v", "type": "quantitative", "axis": {"values": [0,5,10,40,80], "domainWidth": 1.5, "labelOverlap": false}, "title": "FAM⁺ HS169⁺ cell (%)"}, "y2": {"field": "hi"}}},
     {"mark": {"type": "tick", "color": "#000", "size": 6, "thickness": 1.2},
      "encoding": {"x": {"field": "t", "type": "nominal", "axis": {"labels": false, "ticks": false, "domainWidth": 1.5}, "title": null}, "xOffset": {"field": "s", "type": "nominal"}, "y": {"field": "hi", "type": "quantitative", "axis": {"values": [0,5,10,40,80], "domainWidth": 1.5, "labelOverlap": false}, "title": "FAM⁺ HS169⁺ cell (%)"}}},
     {"mark": {"type": "text", "fontSize": 9, "baseline": "bottom", "dy": -3},
      "encoding": {"x": {"field": "t", "type": "nominal", "axis": {"labels": false, "ticks": false, "domainWidth": 1.5}, "title": null}, "xOffset": {"field": "s", "type": "nominal"}, "y": {"field": "hi", "type": "quantitative", "axis": {"values": [0,5,10,40,80], "domainWidth": 1.5, "labelOverlap": false}, "title": "FAM⁺ HS169⁺ cell (%)"}, "text": {"field": "sig"}}},
     {"mark": {"type": "text", "fontSize": 10, "angle": 315, "align": "right", "baseline": "middle", "dx": -2, "dy": 5},
      "encoding": {"x": {"field": "t", "type": "nominal", "axis": {"labels": false, "ticks": false, "domainWidth": 1.5}, "title": null}, "xOffset": {"field": "s", "type": "nominal"}, "y": {"datum": 0, "axis": {"values": [0,5,10,40,80], "domainWidth": 1.5, "labelOverlap": false}, "title": "FAM⁺ HS169⁺ cell (%)"}, "text": {"field": "s"}}},
     {"transform": [{"filter": "datum.s == 'P2'"}],
      "mark": {"type": "tick", "color": "#000", "size": 43, "thickness": 3, "clip": false},
      "encoding": {"x": {"field": "t", "type": "nominal", "axis": {"labels": false, "ticks": false, "domainWidth": 1.5}, "title": null}, "y": {"datum": 88.3, "axis": {"values": [0,5,10,40,80], "domainWidth": 1.5, "labelOverlap": false}, "title": "FAM⁺ HS169⁺ cell (%)"}}},
     {"transform": [{"filter": "datum.s == 'P2'"}],
      "mark": {"type": "text", "fontSize": 10.5, "baseline": "middle", "clip": false},
      "encoding": {"x": {"field": "t", "type": "nominal", "axis": {"labels": false, "ticks": false, "domainWidth": 1.5}, "title": null}, "y": {"datum": 100.8, "axis": {"values": [0,5,10,40,80], "domainWidth": 1.5, "labelOverlap": false}, "title": "FAM⁺ HS169⁺ cell (%)"}, "text": {"field": "t"}}}
    ]
   }
  ]
 },
 {"width": 1, "height": 166, "data": {"values": []}, "mark": "point"},
 {
  "bounds": "flush", "spacing": 0,
  "resolve": {"scale": {"color": "independent", "fill": "independent", "stroke": "independent", "shape": "independent", "xOffset": "independent"}, "legend": {"color": "independent", "fill": "independent", "stroke": "independent", "shape": "independent"}},
  "hconcat": [
   {"width": 30, "height": 1, "data": {"values": []}, "mark": "point"},
   {
    "bounds": "flush", "spacing": 0,
    "title": {"text": "J", "dx": -41, "offset": -18},
    "hconcat": [
     {
      "width": 190, "height": 126,
      "view": {"stroke": "#000", "strokeWidth": 1.3},
      "title": {"text": "No PolyP", "anchor": "middle", "offset": 5},
      "layer": [
       {"data": {"values": [{"lo":1697,"up":1689},{"lo":1659,"up":1650},{"lo":1642,"up":1610}]},
        "mark": {"type": "rect", "color": "#ebebeb"},
        "encoding": {"x": {"field": "lo", "type": "quantitative", "scale": {"domain": [1600, 1700], "reverse": true, "nice": false, "zero": false}, "axis": {"values": [1600,1620,1640,1660,1680,1700], "format": "d", "labelFlush": false, "labelOverlap": false, "labelAngle": -45, "labelFontSize": 11, "titleFontSize": 11}, "title": "Wavenumber (cm⁻¹)"}, "x2": {"field": "up"}}},
       {"data": {"values": [
          {"w":1700,"P2":0,"P2-H":12,"P2-K":0,"P2-RR Deletion":2,"P2-RR Addition":17},
          {"w":1697,"P2":10,"P2-H":16,"P2-K":4,"P2-RR Deletion":12,"P2-RR Addition":26},
          {"w":1694,"P2":25,"P2-H":15,"P2-K":8,"P2-RR Deletion":20,"P2-RR Addition":37},
          {"w":1690,"P2":48,"P2-H":12,"P2-K":14,"P2-RR Deletion":30,"P2-RR Addition":56},
          {"w":1686,"P2":68,"P2-H":11,"P2-K":19,"P2-RR Deletion":39,"P2-RR Addition":78},
          {"w":1682,"P2":82,"P2-H":9.5,"P2-K":24,"P2-RR Deletion":48,"P2-RR Addition":90},
          {"w":1678,"P2":90,"P2-H":8,"P2-K":29,"P2-RR Deletion":56,"P2-RR Addition":96},
          {"w":1674,"P2":94,"P2-H":6,"P2-K":32,"P2-RR Deletion":62,"P2-RR Addition":99},
          {"w":1670,"P2":95,"P2-H":4.5,"P2-K":34,"P2-RR Deletion":66,"P2-RR Addition":100},
          {"w":1666,"P2":94,"P2-H":3,"P2-K":37,"P2-RR Deletion":70,"P2-RR Addition":99},
          {"w":1662,"P2":93.5,"P2-H":2,"P2-K":41,"P2-RR Deletion":73,"P2-RR Addition":97},
          {"w":1658,"P2":95.5,"P2-H":1.5,"P2-K":46,"P2-RR Deletion":79,"P2-RR Addition":96},
          {"w":1654,"P2":97,"P2-H":1.5,"P2-K":51,"P2-RR Deletion":84,"P2-RR Addition":98},
          {"w":1650,"P2":99,"P2-H":1.5,"P2-K":56,"P2-RR Deletion":85.5,"P2-RR Addition":93},
          {"w":1646,"P2":100,"P2-H":2,"P2-K":61,"P2-RR Deletion":86,"P2-RR Addition":89},
          {"w":1642,"P2":99,"P2-H":5,"P2-K":66,"P2-RR Deletion":87,"P2-RR Addition":87},
          {"w":1638,"P2":99.5,"P2-H":20,"P2-K":70,"P2-RR Deletion":90,"P2-RR Addition":86},
          {"w":1634,"P2":95,"P2-H":50,"P2-K":74,"P2-RR Deletion":96,"P2-RR Addition":82},
          {"w":1631,"P2":88,"P2-H":70,"P2-K":80,"P2-RR Deletion":99.5,"P2-RR Addition":77},
          {"w":1628,"P2":80,"P2-H":92,"P2-K":91,"P2-RR Deletion":99,"P2-RR Addition":71},
          {"w":1625,"P2":71,"P2-H":100,"P2-K":99,"P2-RR Deletion":92,"P2-RR Addition":65},
          {"w":1622,"P2":62,"P2-H":92,"P2-K":96,"P2-RR Deletion":79,"P2-RR Addition":58},
          {"w":1619,"P2":53,"P2-H":72,"P2-K":84,"P2-RR Deletion":66,"P2-RR Addition":50},
          {"w":1616,"P2":44,"P2-H":55,"P2-K":68,"P2-RR Deletion":56,"P2-RR Addition":43},
          {"w":1612,"P2":31,"P2-H":35,"P2-K":50,"P2-RR Deletion":45,"P2-RR Addition":31},
          {"w":1608,"P2":20,"P2-H":20,"P2-K":36,"P2-RR Deletion":33,"P2-RR Addition":20},
          {"w":1604,"P2":10,"P2-H":8,"P2-K":25,"P2-RR Deletion":20,"P2-RR Addition":12},
          {"w":1600,"P2":3,"P2-H":0,"P2-K":16,"P2-RR Deletion":11,"P2-RR Addition":7}
        ]},
        "transform": [{"fold": ["P2","P2-H","P2-K","P2-RR Deletion","P2-RR Addition"], "as": ["c", "a"]}],
        "mark": {"type": "line", "interpolate": "monotone", "strokeWidth": 1.3},
        "encoding": {
          "x": {"field": "w", "type": "quantitative", "axis": {"values": [1600,1620,1640,1660,1680,1700], "format": "d", "labelFlush": false, "labelOverlap": false, "labelAngle": -45, "labelFontSize": 11, "titleFontSize": 11}, "title": "Wavenumber (cm⁻¹)"},
          "y": {"field": "a", "type": "quantitative", "scale": {"domain": [0, 120], "nice": false}, "axis": {"values": [0,50,100], "labelFontSize": 12, "titleFontSize": 11, "labelOverlap": false}, "title": "Normalised absorbance"},
          "color": {"field": "c", "type": "nominal", "scale": {"domain": ["P2","P2-H","P2-K","P2-RR Deletion","P2-RR Addition"], "range": ["#000000","#ff9900","#8c1d4f","#ff8fd8","#2b50ff"]}, "legend": {"orient": "none", "legendX": 198, "legendY": 9, "title": null, "symbolType": "stroke", "symbolSize": 196, "symbolStrokeWidth": 1.5, "labelFontSize": 10, "rowPadding": 7, "labelOffset": 7}}
        }}
      ]
     }
    ]
   },
   {"width": 350, "height": 1, "data": {"values": []}, "mark": "point"},
   {
    "bounds": "flush", "spacing": 0,
    "title": {"text": "K", "dx": -41, "offset": -18},
    "hconcat": [
     {
      "width": 190, "height": 126,
      "view": {"stroke": "#000", "strokeWidth": 1.3},
      "title": {"text": "With PolyP", "anchor": "middle", "offset": 5},
      "layer": [
       {"data": {"values": [{"lo":1697,"up":1689},{"lo":1659,"up":1650},{"lo":1642,"up":1610}]},
        "mark": {"type": "rect", "color": "#ebebeb"},
        "encoding": {"x": {"field": "lo", "type": "quantitative", "scale": {"domain": [1600, 1700], "reverse": true, "nice": false, "zero": false}, "axis": {"values": [1600,1620,1640,1660,1680,1700], "format": "d", "labelFlush": false, "labelOverlap": false, "labelAngle": -45, "labelFontSize": 11, "titleFontSize": 11}, "title": "Wavenumber (cm⁻¹)"}, "x2": {"field": "up"}}},
       {"data": {"values": [
          {"w":1700,"P2":0,"P2-H":0,"P2-K":6,"P2-RR Deletion":0,"P2-RR Addition":0},
          {"w":1697,"P2":10,"P2-H":9,"P2-K":11,"P2-RR Deletion":8,"P2-RR Addition":9},
          {"w":1694,"P2":20,"P2-H":15,"P2-K":18,"P2-RR Deletion":17,"P2-RR Addition":18},
          {"w":1691,"P2":30,"P2-H":19,"P2-K":25,"P2-RR Deletion":26,"P2-RR Addition":27},
          {"w":1688,"P2":40,"P2-H":22,"P2-K":28,"P2-RR Deletion":35,"P2-RR Addition":37},
          {"w":1684,"P2":51,"P2-H":25,"P2-K":30.5,"P2-RR Deletion":45,"P2-RR Addition":47},
          {"w":1680,"P2":57,"P2-H":26.5,"P2-K":32,"P2-RR Deletion":52,"P2-RR Addition":54},
          {"w":1676,"P2":62,"P2-H":26,"P2-K":34,"P2-RR Deletion":59,"P2-RR Addition":60},
          {"w":1672,"P2":66,"P2-H":25,"P2-K":36,"P2-RR Deletion":63,"P2-RR Addition":64},
          {"w":1668,"P2":70,"P2-H":24,"P2-K":38,"P2-RR Deletion":67,"P2-RR Addition":68},
          {"w":1664,"P2":73,"P2-H":23.5,"P2-K":41,"P2-RR Deletion":71,"P2-RR Addition":71.5},
          {"w":1660,"P2":76,"P2-H":24,"P2-K":45,"P2-RR Deletion":75,"P2-RR Addition":75},
          {"w":1656,"P2":80,"P2-H":27,"P2-K":55,"P2-RR Deletion":79,"P2-RR Addition":79},
          {"w":1652,"P2":85,"P2-H":32,"P2-K":68,"P2-RR Deletion":84,"P2-RR Addition":84},
          {"w":1648,"P2":91,"P2-H":38,"P2-K":81,"P2-RR Deletion":90,"P2-RR Addition":90},
          {"w":1645,"P2":96,"P2-H":43,"P2-K":89,"P2-RR Deletion":95,"P2-RR Addition":95},
          {"w":1642,"P2":99.5,"P2-H":51,"P2-K":97,"P2-RR Deletion":98.5,"P2-RR Addition":98.5},
          {"w":1640,"P2":100,"P2-H":58,"P2-K":100,"P2-RR Deletion":100,"P2-RR Addition":100},
          {"w":1638,"P2":99,"P2-H":64,"P2-K":99,"P2-RR Deletion":100,"P2-RR Addition":99.5},
          {"w":1635,"P2":95,"P2-H":76,"P2-K":93,"P2-RR Deletion":97.5,"P2-RR Addition":97},
          {"w":1632,"P2":87,"P2-H":86,"P2-K":82,"P2-RR Deletion":92,"P2-RR Addition":90},
          {"w":1629,"P2":78,"P2-H":95,"P2-K":69,"P2-RR Deletion":83,"P2-RR Addition":81},
          {"w":1626,"P2":68,"P2-H":100,"P2-K":56,"P2-RR Deletion":73,"P2-RR Addition":71},
          {"w":1623,"P2":58,"P2-H":96,"P2-K":41,"P2-RR Deletion":63,"P2-RR Addition":61},
          {"w":1620,"P2":49,"P2-H":76,"P2-K":29,"P2-RR Deletion":54,"P2-RR Addition":52},
          {"w":1616,"P2":38,"P2-H":50,"P2-K":18,"P2-RR Deletion":43,"P2-RR Addition":41},
          {"w":1612,"P2":29,"P2-H":29,"P2-K":9,"P2-RR Deletion":34,"P2-RR Addition":32},
          {"w":1608,"P2":22,"P2-H":14,"P2-K":3.5,"P2-RR Deletion":27,"P2-RR Addition":25},
          {"w":1604,"P2":16,"P2-H":4.7,"P2-K":1,"P2-RR Deletion":20,"P2-RR Addition":18},
          {"w":1600,"P2":10.5,"P2-H":0,"P2-K":0,"P2-RR Deletion":14,"P2-RR Addition":12}
        ]},
        "transform": [{"fold": ["P2","P2-H","P2-K","P2-RR Deletion","P2-RR Addition"], "as": ["c", "a"]}],
        "mark": {"type": "line", "interpolate": "monotone", "strokeWidth": 1.3},
        "encoding": {
          "x": {"field": "w", "type": "quantitative", "axis": {"values": [1600,1620,1640,1660,1680,1700], "format": "d", "labelFlush": false, "labelOverlap": false, "labelAngle": -45, "labelFontSize": 11, "titleFontSize": 11}, "title": "Wavenumber (cm⁻¹)"},
          "y": {"field": "a", "type": "quantitative", "scale": {"domain": [0, 120], "nice": false}, "axis": {"values": [0,50,100], "labelFontSize": 12, "titleFontSize": 11, "labelOverlap": false}, "title": "Normalised absorbance"},
          "color": {"field": "c", "type": "nominal", "scale": {"domain": ["P2","P2-H","P2-K","P2-RR Deletion","P2-RR Addition"], "range": ["#000000","#ff9900","#8c1d4f","#ff8fd8","#2b50ff"]}, "legend": {"orient": "none", "legendX": 200, "legendY": 9, "title": null, "symbolType": "stroke", "symbolSize": 196, "symbolStrokeWidth": 1.5, "labelFontSize": 10, "rowPadding": 7, "labelOffset": 7}}
        }}
      ]
     }
    ]
   }
  ]
 }
]
}
